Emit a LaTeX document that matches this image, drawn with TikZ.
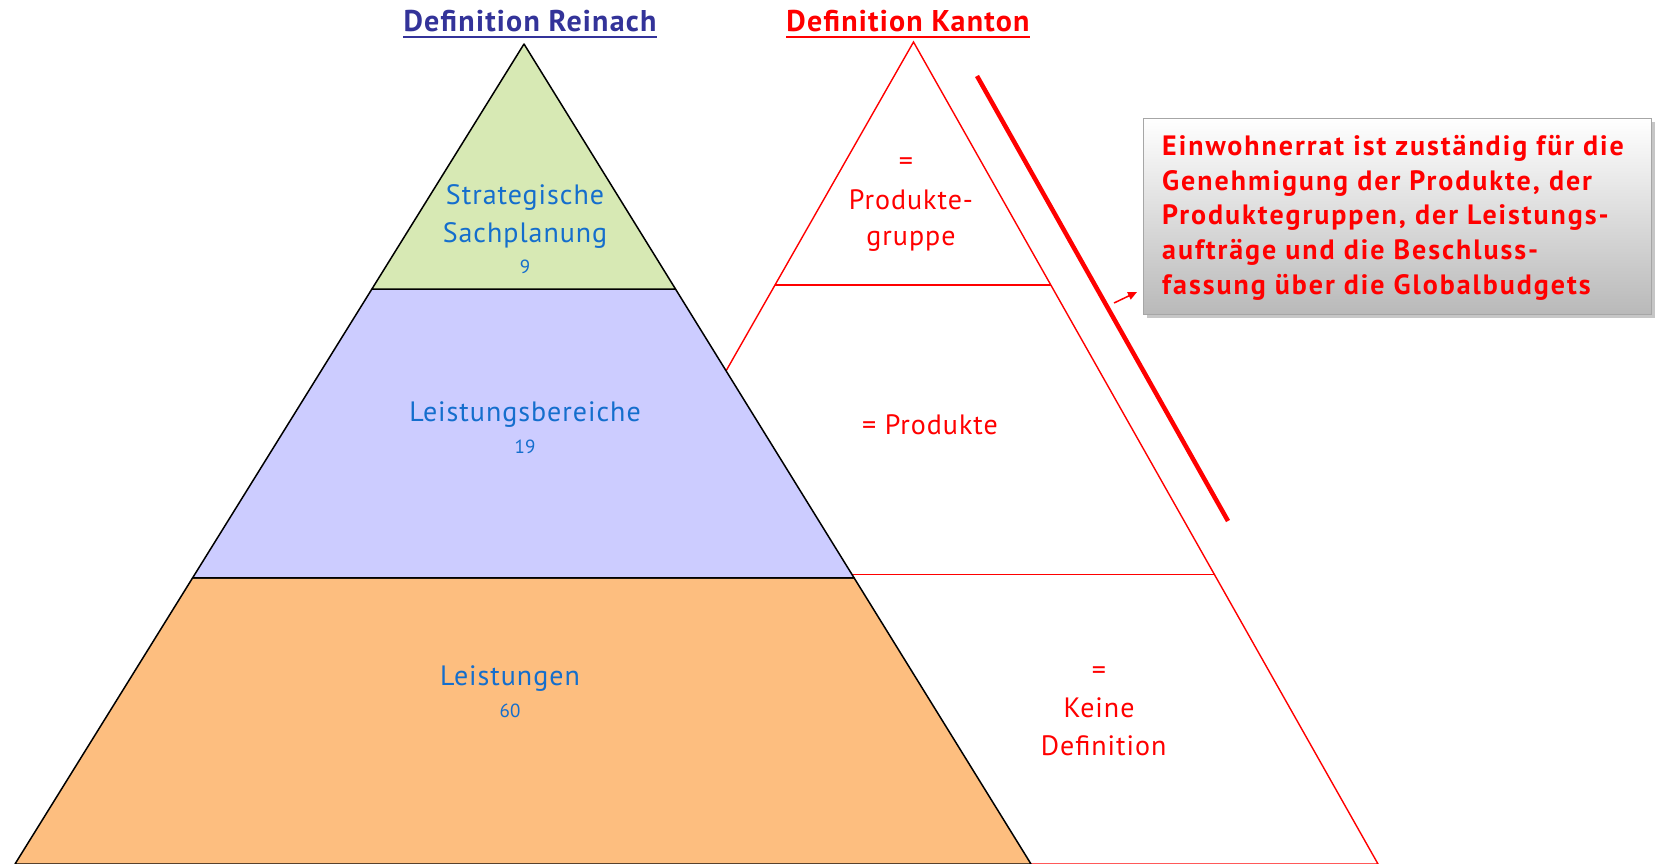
\documentclass[tikz,border=0pt]{standalone}
\usepackage{fontspec}
\setmainfont{PT Sans}
\usetikzlibrary{calc,shadows,arrows.meta}
\definecolor{rtitle}{RGB}{51,51,153}
\definecolor{lblue}{RGB}{20,110,205}
\definecolor{pgreen}{RGB}{215,233,180}
\definecolor{plav}{RGB}{204,204,255}
\definecolor{porange}{RGB}{253,190,127}
\newfontfamily\lblfont[LetterSpace=3.5]{PT Sans}
\newfontfamily\ttlfont[LetterSpace=4]{PT Sans Bold}
\newfontfamily\boxfont[LetterSpace=7]{PT Sans Bold}
\tikzset{
  blk/.style={draw=black,line width=1.5pt,line join=round},
  kanton/.style={draw=red,line width=1.4pt},
  lbl/.style={text=lblue,font=\lblfont\fontsize{28}{38}\selectfont,align=center,inner sep=0pt},
  num/.style={text=lblue,font=\fontsize{19}{22}\selectfont,inner sep=0pt},
  klbl/.style={text=red,font=\lblfont\fontsize{28}{38}\selectfont,align=center,inner sep=0pt},
  ttl/.style={font=\ttlfont\fontsize{30}{34}\selectfont,inner sep=0pt},
  infobox/.style={draw=gray!70,line width=0.8pt,top color=white,bottom color=gray!55,
     drop shadow={opacity=0.45,shadow xshift=4pt,shadow yshift=-4pt},
     minimum width=508pt,minimum height=196pt,inner sep=0pt},
  infotext/.style={text=red,font=\boxfont\fontsize{28}{34.8}\selectfont,align=left,inner sep=0pt},
}
\begin{document}
\begin{tikzpicture}[x=1pt,y=-1pt]
\useasboundingbox (0,0) rectangle (1656,864);
% Kanton pyramid
\coordinate (K) at (913.5,42);
\coordinate (KBL) at (445,864);
\coordinate (KBR) at (1378,864);
\coordinate (KL1) at ($(K)!0.2956!(KBL)$);
\coordinate (KR1) at ($(K)!0.2956!(KBR)$);
\coordinate (KL2) at ($(K)!0.6478!(KBL)$);
\coordinate (KR2) at ($(K)!0.6478!(KBR)$);
\path[kanton,fill=white] (K) -- (KBL) -- (KBR) -- cycle;
\draw[kanton] (KL1) -- (KR1);
\draw[kanton] (KL2) -- (KR2);
% Reinach pyramid
\coordinate (A) at (524,44);
\coordinate (BL) at (15,864);
\coordinate (BR) at (1031,864);
\coordinate (L1) at ($(A)!0.2988!(BL)$);
\coordinate (R1) at ($(A)!0.2988!(BR)$);
\coordinate (L2) at ($(A)!0.6512!(BL)$);
\coordinate (R2) at ($(A)!0.6512!(BR)$);
\path[blk,fill=porange] (L2) -- (BL) -- (BR) -- (R2) -- cycle;
\path[blk,fill=plav] (L1) -- (L2) -- (R2) -- (R1) -- cycle;
\path[blk,fill=pgreen] (A) -- (L1) -- (R1) -- cycle;
% titles
\node[ttl,text=rtitle] (treinach) at (530,21) {Definition Reinach};
\draw[rtitle,line width=2pt] ($(treinach.south west)+(0,5)$) -- ($(treinach.south east)+(0,5)$);
\node[ttl,text=red] (tkanton) at (908,21) {Definition Kanton};
\draw[red,line width=2pt] ($(tkanton.south west)+(0,5)$) -- ($(tkanton.south east)+(0,5)$);
% Reinach labels
\node[lbl] (s1) at (525,197) {Strategische};
\node[lbl] (s2) at (525,235) {Sachplanung};
\node[num] (s3) at (525,267) {9};
\node[lbl] (lb) at (525,415) {Leistungsbereiche};
\node[num] (lbn) at (525,447) {19};
\node[lbl] (le) at (510,679) {Leistungen};
\node[num] (len) at (510,711) {60};
% Kanton labels
\node[klbl] (k1) at (906,164) {=};
\node[klbl] (k2) at (911,200) {Produkte-};
\node[klbl] (k3) at (911,241) {gruppe};
\node[klbl] (k4) at (930,425) {= Produkte};
\node[klbl] (k5) at (1099,673) {=};
\node[klbl] (k6) at (1099,708) {Keine};
\node[klbl] (k7) at (1103.6,746) {Definition};
% thick red line
\coordinate (T1) at (977,76);
\coordinate (T2) at (1228,521);
\draw[red,line width=4.5pt] (T1) -- (T2);
% box
\node[infobox,anchor=north west] (box) at (1143,118) {};
\node[infotext,anchor=north west] (boxtxt) at (1162,135) {Einwohnerrat ist zuständig für die\\Genehmigung der Produkte, der\\Produktegruppen, der Leistungs-\\aufträge und die Beschluss-\\fassung über die Globalbudgets};
% arrow
\coordinate (P1) at (1114,303);
\coordinate (P2) at (1137,292);
\draw[red,line width=1.5pt,-{Triangle[length=9pt,width=8pt]}] (P1) -- (P2);
\end{tikzpicture}
\end{document}
